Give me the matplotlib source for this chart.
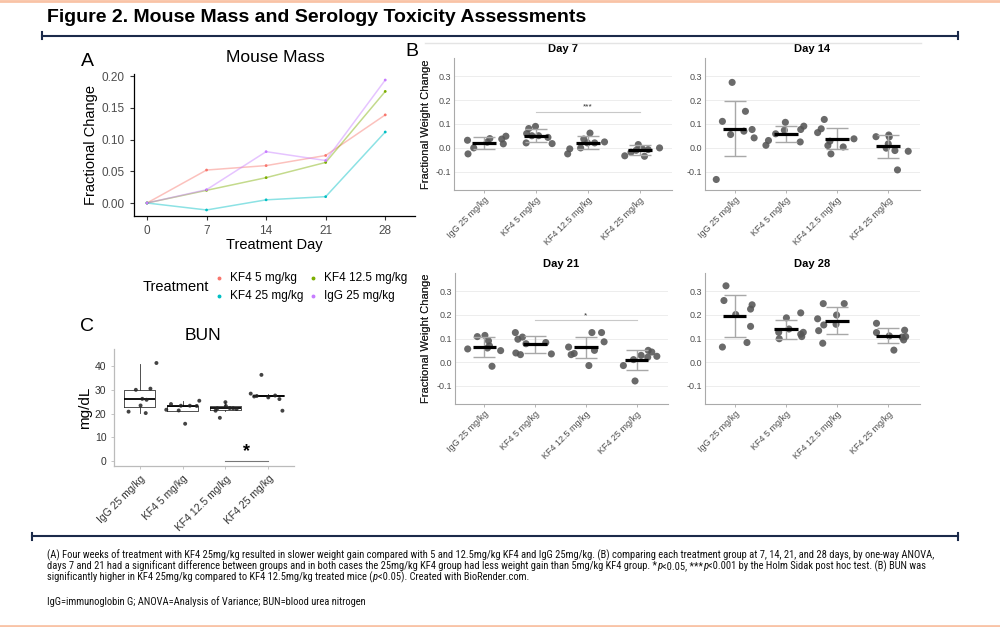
import matplotlib
matplotlib.use('Agg')
import matplotlib.pyplot as plt
from matplotlib.lines import Line2D
from matplotlib import font_manager
import numpy as np

plt.rcParams['font.family'] = ['Liberation Sans', 'DejaVu Sans']

# ---------------- data ----------------
days = [0, 7, 14, 21, 28]
treatments = ['KF4 5 mg/kg', 'KF4 12.5 mg/kg', 'KF4 25 mg/kg', 'IgG 25 mg/kg']
treat_colors = ['#F8766D', '#7CAE00', '#00BFC4', '#C77CFF']
mass_kf4_5 = [0, 0.052, 0.059, 0.075, 0.139]
mass_kf4_12 = [0, 0.020, 0.040, 0.064, 0.176]
mass_kf4_25 = [0, -0.011, 0.005, 0.010, 0.112]
mass_igg = [0, 0.021, 0.081, 0.067, 0.194]

groups = ['IgG 25 mg/kg', 'KF4 5 mg/kg', 'KF4 12.5 mg/kg', 'KF4 25 mg/kg']

day7_vals = [[0.032, -0.025, 0.0, 0.039, 0.037, 0.017, 0.049, 0.024],
             [0.021, 0.081, 0.090, 0.051, 0.051, 0.060, 0.044, 0.018],
             [-0.025, -0.004, 0.0, 0.037, 0.062, 0.021, 0.021, 0.025],
             [-0.033, -0.018, 0.014, -0.002, -0.035, -0.007, 0.0, -0.010]]
day7_jit = [[-0.32, -0.31, -0.20, 0.11, 0.34, 0.37, 0.42, 0.06],
            [-0.19, -0.14, -0.01, -0.08, 0.05, -0.18, 0.23, 0.31],
            [-0.39, -0.35, -0.14, -0.08, 0.04, -0.01, 0.13, 0.32],
            [-0.29, -0.17, -0.03, 0.04, 0.09, 0.16, 0.38, -0.07]]
day7_mean = [0.021, 0.051, 0.021, -0.010]
day7_sd = [0.024, 0.026, 0.027, 0.021]

day14_vals = [[-0.132, 0.111, 0.056, 0.274, 0.153, 0.070, 0.077, 0.042],
              [0.011, 0.031, 0.059, 0.107, 0.074, 0.077, 0.025, 0.091],
              [0.064, 0.080, 0.119, 0.010, 0.028, -0.025, 0.004, 0.038],
              [0.047, 0.054, 0.017, -0.001, -0.011, -0.014, -0.092, 0.046]]
day14_jit = [[-0.36, -0.24, -0.08, -0.05, 0.21, 0.18, 0.34, 0.38],
             [-0.39, -0.34, -0.20, -0.01, -0.03, 0.29, 0.28, 0.35],
             [-0.38, -0.31, -0.25, -0.18, -0.14, -0.12, 0.12, 0.33],
             [-0.24, 0.01, 0.00, -0.04, 0.13, 0.39, 0.18, 0.02]]
day14_mean = [0.081, 0.059, 0.039, 0.007]
day14_sd = [0.115, 0.034, 0.045, 0.048]

day21_vals = [[0.056, 0.108, 0.113, 0.090, 0.060, 0.069, -0.017, 0.049],
              [0.125, 0.097, 0.106, 0.039, 0.032, 0.078, 0.083, 0.035],
              [0.064, 0.032, 0.037, -0.014, 0.125, 0.050, 0.125, 0.086],
              [-0.014, 0.011, -0.079, 0.029, 0.021, 0.050, 0.043, 0.025]]
day21_jit = [[-0.33, -0.14, 0.01, 0.08, 0.06, 0.10, 0.15, 0.32],
             [-0.39, -0.34, -0.25, -0.38, -0.29, -0.18, 0.21, 0.32],
             [-0.34, -0.29, -0.23, 0.06, 0.12, 0.17, 0.31, 0.36],
             [-0.26, -0.06, -0.03, 0.09, 0.22, 0.23, 0.30, 0.40]]
day21_mean = [0.065, 0.075, 0.0625, 0.011]
day21_sd = [0.042, 0.034, 0.044, 0.042]

day28_vals = [[0.064, 0.260, 0.322, 0.201, 0.083, 0.151, 0.224, 0.242],
              [0.126, 0.099, 0.187, 0.140, 0.208, 0.118, 0.108, 0.126],
              [0.183, 0.133, 0.080, 0.247, 0.157, 0.160, 0.199, 0.247],
              [0.164, 0.125, 0.111, 0.051, 0.106, 0.094, 0.135, 0.108]]
day28_jit = [[-0.24, -0.21, -0.17, 0.02, 0.24, 0.31, 0.31, 0.34],
             [-0.14, -0.13, 0.01, 0.06, 0.29, 0.29, 0.31, 0.34],
             [-0.38, -0.36, -0.28, -0.27, -0.26, -0.02, -0.01, 0.14],
             [-0.23, -0.23, 0.02, 0.11, 0.27, 0.30, 0.32, 0.34]]
day28_mean = [0.194, 0.139, 0.175, 0.1125]
day28_sd = [0.089, 0.040, 0.057, 0.033]

bun_vals = [[20.8, 30.0, 23.4, 26.2, 25.8, 20.2, 30.5, 41.3],
            [21.6, 24.0, 21.3, 23.3, 15.7, 23.2, 25.4, 23.3],
            [21.2, 22.2, 18.2, 24.8, 23.2, 22.3, 22.2, 21.9],
            [28.4, 27.2, 27.4, 36.3, 26.8, 27.6, 26.1, 21.2]]
bun_jit = [[-0.26, -0.09, 0.02, 0.06, 0.16, 0.14, 0.25, 0.39],
           [-0.38, -0.27, -0.09, -0.04, 0.06, 0.33, 0.39, 0.17],
           [-0.23, -0.19, -0.13, 0.00, 0.01, 0.10, 0.18, 0.26],
           [-0.41, -0.33, -0.27, -0.16, 0.00, 0.16, 0.26, 0.33]]
bun_q1 = [22.6, 21.05, 21.5, 27.2]
bun_med = [26.2, 23.3, 22.2, 27.6]
bun_q3 = [30.0, 23.3, 23.3, 27.9]
bun_wlo = [20.2, 21.05, 21.2, 26.8]
bun_whi = [41.0, 25.2, 24.8, 28.4]

title_text = "Figure 2. Mouse Mass and Serology Toxicity Assessments"
caption_lines = [
    [("(A) Four weeks of treatment with KF4 25mg/kg resulted in slower weight gain compared with 5 and 12.5mg/kg KF4 and IgG 25mg/kg. (B) comparing each treatment group at 7, 14, 21, and 28 days, by one-way ANOVA,", 'normal')],
    [("days 7 and 21 had a significant difference between groups and in both cases the 25mg/kg KF4 group had less weight gain than 5mg/kg KF4 group. *", 'normal'),
     ("p", 'italic'), ("<0.05, ***", 'normal'), ("p", 'italic'),
     ("<0.001 by the Holm Sidak post hoc test. (B) BUN was", 'normal')],
    [("significantly higher in KF4 25mg/kg compared to KF4 12.5mg/kg treated mice (", 'normal'),
     ("p", 'italic'), ("<0.05). Created with BioRender.com.", 'normal')],
]
footnote = "IgG=immunoglobin G; ANOVA=Analysis of Variance; BUN=blood urea nitrogen"

# ---------------- figure ----------------
W, H = 1000, 627
fig = plt.figure(figsize=(W / 100, H / 100), dpi=100)
fig.canvas.draw()
renderer = fig.canvas.get_renderer()


def ax_px(l, t, r, b):
    return fig.add_axes([l / W, 1 - b / H, (r - l) / W, (b - t) / H])


def fx(x):
    return x / W


def fy(y):
    return 1 - y / H


def fit_size(txt, width_px, fs0, **kw):
    t = fig.text(0, 0, txt, fontsize=fs0, **kw)
    w = t.get_window_extent(renderer=renderer).width
    t.remove()
    return fs0 * width_px / w


# narrow font for the caption, if one is installed
installed = {f.name for f in font_manager.fontManager.ttflist}
narrow_candidates = ['Liberation Sans Narrow', 'Arial Narrow', 'Noto Sans Condensed',
                     'Roboto Condensed', 'Open Sans Condensed', 'DejaVu Sans Condensed',
                     'Noto Sans SemiCondensed']
cap_family = [f for f in narrow_candidates if f in installed][:1] + ['Liberation Sans', 'DejaVu Sans']

# decorative rules
navy = '#1B2A4A'
orange = '#F9C3A6'
fig.add_artist(Line2D([0, 1], [fy(1), fy(1)], color=orange, lw=2))
fig.add_artist(Line2D([0, 1], [fy(626), fy(626)], color=orange, lw=2))
for yy, x_a, x_b in ((35.5, 42, 958), (536, 32, 958)):
    fig.add_artist(Line2D([fx(x_a), fx(x_b)], [fy(yy), fy(yy)], color=navy, lw=1.5))
    for xx in (x_a, x_b):
        fig.add_artist(Line2D([fx(xx), fx(xx)], [fy(yy - 3.5), fy(yy + 3.5)], color=navy, lw=1.5))

tfs = fit_size(title_text, 538, 13, fontweight='bold')
fig.text(fx(47), fy(17), title_text, fontsize=tfs, fontweight='bold', ha='left', va='center',
         color='black')

# ---------------- Panel A ----------------
axA = ax_px(134, 74, 415, 216)
mass_series = [mass_kf4_5, mass_kf4_12, mass_kf4_25, mass_igg]
for ser, col in zip(mass_series, treat_colors):
    axA.plot(days, ser, color=col, alpha=0.45, lw=1.1)
    axA.scatter(days, ser, color=col, s=4, zorder=3, edgecolors='none')
axA.set_xlim(-1.53, 31.5)
axA.set_ylim(-0.0205, 0.2035)
axA.set_xticks(days)
axA.set_yticks([0.0, 0.05, 0.10, 0.15, 0.20])
axA.set_yticklabels(['0.00', '0.05', '0.10', '0.15', '0.20'])
for s in ('top', 'right'):
    axA.spines[s].set_visible(False)
for s in ('left', 'bottom'):
    axA.spines[s].set_color('black')
    axA.spines[s].set_linewidth(0.9)
axA.tick_params(labelsize=8.5, colors='#4D4D4D', length=3, width=0.8)
axA.tick_params(axis='both', color='#333333')
axA.set_xlabel("Treatment Day", fontsize=10.5, labelpad=1)
axA.set_ylabel("Fractional Change", fontsize=10.5, labelpad=3)
fig.text(fx(275), fy(57), "Mouse Mass", fontsize=12.5, ha='center', va='center')
fig.text(fx(87), fy(61), "A", fontsize=14, ha='center', va='center')

# legend
fig.text(fx(143), fy(287), "Treatment", fontsize=10.5, ha='left', va='center')
leg_pos = [(219, 278), (313, 278), (219, 296), (313, 296)]
for (lx, ly), lab, col in zip(leg_pos, treatments, treat_colors):
    fig.add_artist(Line2D([fx(lx)], [fy(ly)], marker='o', markersize=1.8, color=col, lw=0))
    fig.text(fx(lx + 11), fy(ly), lab, fontsize=8.5, ha='left', va='center')

# ---------------- Panel C ----------------
axC = ax_px(114, 349, 294, 466)
pos = [1, 2, 3, 4]
stats = []
for i in range(4):
    stats.append(dict(med=bun_med[i], q1=bun_q1[i], q3=bun_q3[i],
                      whislo=bun_wlo[i], whishi=bun_whi[i], fliers=[]))
axC.bxp(stats, positions=pos, widths=0.73, showfliers=False, showcaps=False,
        boxprops=dict(color='#333333', lw=0.6),
        whiskerprops=dict(color='#333333', lw=0.6),
        medianprops=dict(color='black', lw=1.3))
for i in range(4):
    xs = np.array(bun_jit[i]) + pos[i]
    axC.scatter(xs, bun_vals[i], s=8, color='#222222', alpha=0.85, edgecolors='none', zorder=3)
axC.plot([3, 4], [0, 0], color='#777777', lw=0.8)
axC.text(3.5, 0.2, "*", fontsize=13, ha='center', va='bottom', fontweight='bold')
axC.set_xlim(0.4, 4.6)
axC.set_ylim(-2.1, 47.2)
axC.set_xticks(pos)
axC.set_xticklabels(groups, rotation=45, ha='right', rotation_mode='anchor')
axC.set_yticks([0, 10, 20, 30, 40])
for s in ('top', 'right'):
    axC.spines[s].set_visible(False)
for s in ('left', 'bottom'):
    axC.spines[s].set_color('#BBBBBB')
    axC.spines[s].set_linewidth(0.9)
axC.tick_params(labelsize=7.5, colors='#333333', length=2, width=0.6)
axC.tick_params(axis='both', color='#BBBBBB')
axC.set_ylabel("mg/dL", fontsize=11, labelpad=2)
fig.text(fx(203), fy(335), "BUN", fontsize=12.5, ha='center', va='center')
fig.text(fx(87), fy(327), "C", fontsize=14, ha='center', va='center')

# ---------------- Panel B ----------------
facets = [
    ("Day 7", (454, 58, 672, 190), day7_vals, day7_jit, day7_mean, day7_sd, ("***", 0.151)),
    ("Day 14", (705, 58, 920, 190), day14_vals, day14_jit, day14_mean, day14_sd, None),
    ("Day 21", (455, 273, 668, 404), day21_vals, day21_jit, day21_mean, day21_sd, ("*", 0.178)),
    ("Day 28", (705, 273, 920, 404), day28_vals, day28_jit, day28_mean, day28_sd, None),
]
for title, (l, t, r, b), vals, jit, means, sds, sig in facets:
    ax = ax_px(l, t, r, b)
    ax.set_axisbelow(True)
    ax.yaxis.grid(True, color='#EDEDED', lw=0.7)
    for i in range(4):
        xs = np.array(jit[i]) + pos[i]
        ax.scatter(xs, vals[i], s=26, color='#555555', alpha=0.88, edgecolors='none', zorder=2)
    ax.errorbar(pos, means, yerr=sds, fmt='none', ecolor='#A8A8A8', elinewidth=1.0,
                capsize=8, capthick=1.0, zorder=3)
    for i in range(4):
        ax.plot([pos[i] - 0.23, pos[i] + 0.23], [means[i], means[i]], color='black', lw=2.3,
                solid_capstyle='butt', zorder=4)
    if sig is not None:
        lab, yv = sig
        ax.plot([2, 4], [yv, yv], color='#C8C8C8', lw=0.8)
        ax.text(3, yv + 0.004, lab, fontsize=6, ha='center', va='bottom', color='#333333')
    ax.set_xlim(0.42, 4.62)
    ax.set_ylim(-0.176, 0.376)
    ax.set_yticks([-0.1, 0.0, 0.1, 0.2, 0.3])
    ax.set_yticklabels(['-0.1', '0.0', '0.1', '0.2', '0.3'])
    ax.set_xticks(pos)
    ax.set_xticklabels(groups, rotation=45, ha='right', rotation_mode='anchor')
    for s in ('top', 'right'):
        ax.spines[s].set_visible(False)
    for s in ('left', 'bottom'):
        ax.spines[s].set_color('#AAAAAA')
        ax.spines[s].set_linewidth(0.8)
    ax.tick_params(axis='y', length=0, labelsize=6.5, colors='#4D4D4D', pad=2)
    ax.tick_params(axis='x', length=2, width=0.6, color='#AAAAAA', labelsize=6.5,
                   labelcolor='#4D4D4D', pad=2)
    ax.set_ylabel("Fractional Weight Change", fontsize=8, color='#222222')
    ax.yaxis.set_label_coords((431 - l) / (r - l), 0.5)
    ax.set_title(title, fontsize=8, fontweight='bold', pad=4)

fig.add_artist(Line2D([fx(425), fx(921)], [fy(43), fy(43)], color='#E4E4E4', lw=1.0))
fig.text(fx(412), fy(52), "B", fontsize=14, ha='center', va='center')

# ---------------- caption ----------------
cap_fs = fit_size(caption_lines[0][0][0], 900, 7.0, family=cap_family)
line_y = [555, 566, 577]
for parts, yy in zip(caption_lines, line_y):
    x0 = fx(47)
    for txt, style in parts:
        t = fig.text(x0, fy(yy), txt, fontsize=cap_fs, style=style, family=cap_family,
                     ha='left', va='center', color='#111111')
        bb = t.get_window_extent(renderer=renderer)
        x0 = bb.x1 / fig.bbox.width
fig.text(fx(47), fy(602), footnote, fontsize=cap_fs, family=cap_family,
         ha='left', va='center', color='#111111')

fig.savefig('out.png', dpi=100)
